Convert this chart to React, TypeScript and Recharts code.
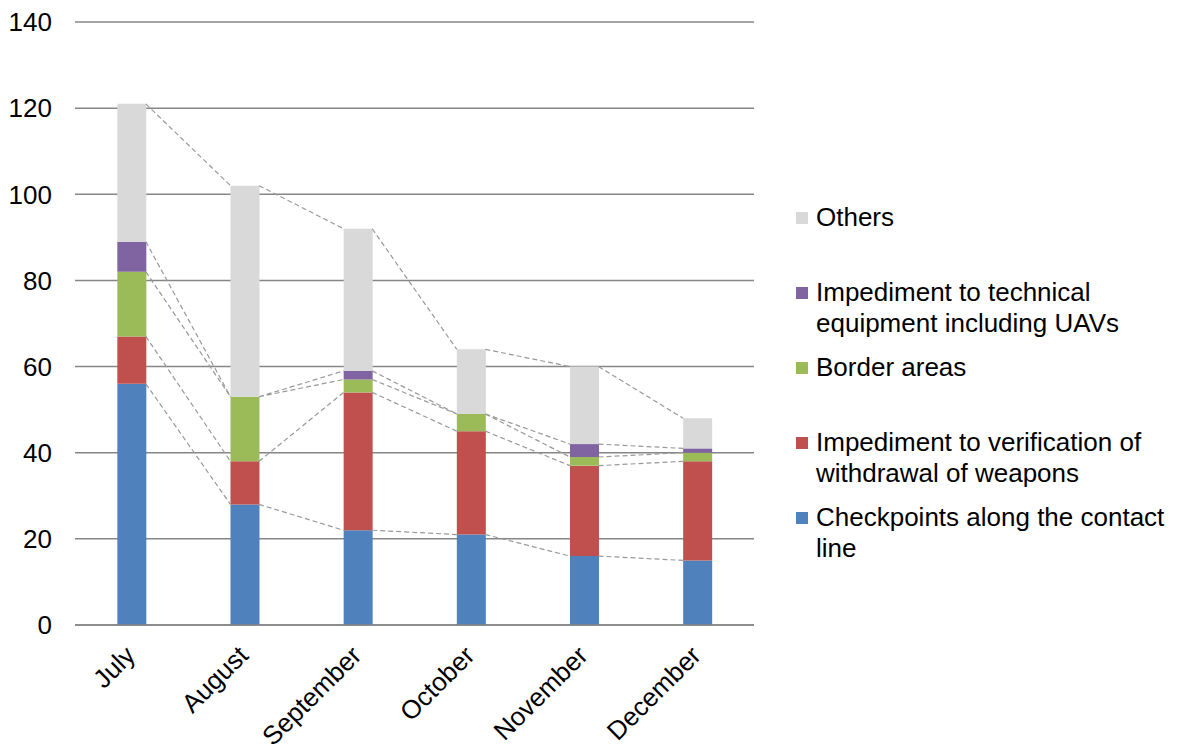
import React from 'react';
import { BarChart, Bar, XAxis, YAxis, CartesianGrid, ReferenceLine, Legend } from 'recharts';

const months = ['July', 'August', 'September', 'October', 'November', 'December'];
const checkpoints = [56, 28, 22, 21, 16, 15];
const verification = [11, 10, 32, 24, 21, 23];
const border = [15, 15, 3, 4, 2, 2];
const technical = [7, 0, 2, 0, 3, 1];
const others = [32, 49, 33, 15, 18, 7];
const yTicks = [0, 20, 40, 60, 80, 100, 120, 140];

const seriesKeys = ['checkpoints', 'verification', 'border', 'technical', 'others'];
const seriesNames = [
  'Checkpoints along the contact\nline',
  'Impediment to verification of\nwithdrawal of weapons',
  'Border areas',
  'Impediment to technical\nequipment including UAVs',
  'Others',
];
const seriesColors = ['#4F81BD', '#C0504D', '#9BBB59', '#8064A2', '#D9D9D9'];
const seriesValues = [checkpoints, verification, border, technical, others];

const data = months.map((m, i) => {
  const row: any = { month: m, pos: i + 0.5 };
  seriesKeys.forEach((k, s) => { row[k] = seriesValues[s][i]; });
  return row;
});

const cumulative = seriesValues.map((_, s) =>
  months.map((__, i) => seriesValues.slice(0, s + 1).reduce((acc, arr) => acc + arr[i], 0))
);

const GAP = 0.374;
const HALF = 0.5 - GAP;

const segments: { key: string; seg: { x: number; y: number }[] }[] = [];
cumulative.forEach((cum, s) => {
  for (let i = 0; i < months.length - 1; i++) {
    segments.push({
      key: `${s}-${i}`,
      seg: [
        { x: i + 0.5 + HALF, y: cum[i] },
        { x: i + 1.5 - HALF, y: cum[i + 1] },
      ],
    });
  }
});

const FONT = "'Liberation Sans', Arial, sans-serif";

const MonthTick = (props: any) => {
  const { x, y, payload } = props;
  return (
    <g transform={`translate(${x - 8},${y + 11})`}>
      <text textAnchor="end" transform="rotate(-45)" dy="0.71em" fontSize={26} fontFamily={FONT} fill="#000">
        {payload.value}
      </text>
    </g>
  );
};

const renderLegend = () => {
  const order = [4, 3, 2, 1, 0];
  return (
    <div style={{ fontFamily: FONT, fontSize: 26, color: '#000' }}>
      {order.map((s) => (
        <div key={s} style={{ position: 'relative', height: 75, paddingLeft: 20, lineHeight: '31px', whiteSpace: 'pre-line' }}>
          <span style={{ position: 'absolute', left: 0, top: 9.5, width: 12, height: 12, background: seriesColors[s] }} />
          {seriesNames[s]}
        </div>
      ))}
    </div>
  );
};

export default function App() {
  return (
    <div style={{ position: 'absolute', left: 0, top: 0, width: 1181, height: 747, background: '#fff' }}>
      <BarChart
        width={1181}
        height={747}
        data={data}
        margin={{ top: 22, right: 427, bottom: 0, left: 0 }}
        barCategoryGap={`${GAP * 100}%`}
        style={{ fontFamily: FONT }}
      >
        <CartesianGrid vertical={false} stroke="#868686" strokeWidth={1.5} />
        <XAxis
          dataKey="month"
          height={122}
          tick={<MonthTick />}
          tickLine={false}
          axisLine={{ stroke: '#868686', strokeWidth: 1.5 }}
          interval={0}
        />
        <XAxis xAxisId="n" dataKey="pos" type="number" domain={[0, 6]} allowDataOverflow hide />
        <YAxis
          width={75}
          domain={[0, 140]}
          ticks={yTicks}
          axisLine={false}
          tickLine={false}
          tickMargin={17}
          tick={{ fontSize: 26, fill: '#000', fontFamily: FONT }}
          interval={0}
        />
        {seriesKeys.map((k, s) => (
          <Bar key={k} dataKey={k} name={seriesNames[s]} stackId="a" fill={seriesColors[s]} isAnimationActive={false} />
        ))}
        {segments.map((sg) => (
          <ReferenceLine
            key={sg.key}
            xAxisId="n"
            segment={sg.seg}
            stroke="#999999"
            strokeWidth={1.2}
            strokeDasharray="5 3"
            ifOverflow="visible"
          />
        ))}
        <Legend
          layout="vertical"
          align="center"
          verticalAlign="middle"
          content={renderLegend}
          wrapperStyle={{ left: 796, top: 202, width: 385 }}
        />
      </BarChart>
    </div>
  );
}
